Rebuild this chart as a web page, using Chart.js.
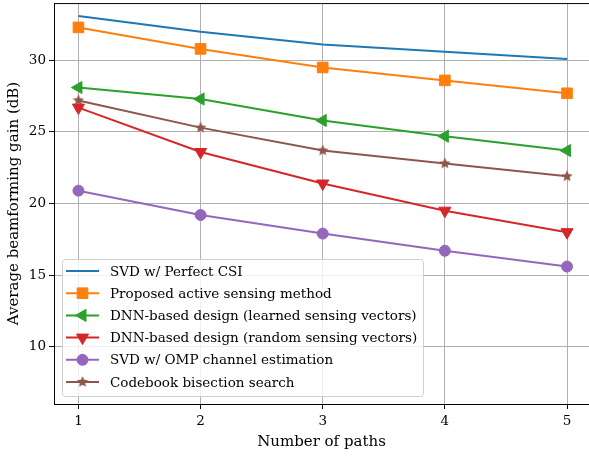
<!DOCTYPE html>
<html>
<head>
<meta charset="utf-8">
<script src="https://cdn.jsdelivr.net/npm/chart.js@4"></script>
<style>
  html, body { margin: 0; padding: 0; background: #fff; }
  #wrap { width: 589px; height: 456px; }
</style>
</head>
<body>
<div id="wrap"><canvas id="chart" width="589" height="456"></canvas></div>
<script>
// values
var paths = [1, 2, 3, 4, 5];
var yTicks = [10, 15, 20, 25, 30];
var svdPerfect = [33.1, 32.0, 31.1, 30.6, 30.1];
var proposed = [32.3, 30.8, 29.5, 28.6, 27.7];
var dnnLearned = [28.1, 27.3, 25.8, 24.7, 23.7];
var dnnRandom = [26.7, 23.6, 21.4, 19.5, 18.0];
var svdOmp = [20.9, 19.2, 17.9, 16.7, 15.6];
var codebook = [27.2, 25.3, 23.7, 22.8, 21.9];

var FONT = "'DejaVu Serif', serif";

function pts(vals) {
    return paths.map((p, i) => ({ x: p, y: vals[i] }));
}

// filled five point star for the codebook series
function starImage(color, size) {
    var c = document.createElement('canvas');
    c.width = size; c.height = size;
    var g = c.getContext('2d');
    var cx = size / 2, cy = size / 2, R = size / 2, r = R * 0.45;
    g.beginPath();
    for (var i = 0; i < 10; i++) {
        var a = -Math.PI / 2 + i * Math.PI / 5;
        var rad = i % 2 === 0 ? R : r;
        g.lineTo(cx + rad * Math.cos(a), cy + rad * Math.sin(a));
    }
    g.closePath();
    g.fillStyle = color;
    g.fill();
    return c;
}

var star = starImage('#8c564b', 12);

function series(label, vals, color, style, radius, rotation) {
    return {
        label: label,
        data: pts(vals),
        borderColor: color,
        backgroundColor: color,
        borderWidth: 2,
        pointStyle: style,
        pointRadius: radius,
        pointHoverRadius: radius,
        pointRotation: rotation || 0,
        pointBorderWidth: 1,
        pointBorderColor: color,
        pointBackgroundColor: color,
        tension: 0
    };
}

var datasets = [
    series('SVD w/ Perfect CSI', svdPerfect, '#1f77b4', false, 0),
    series('Proposed active sensing method', proposed, '#ff7f0e', 'rect', 7.5),
    series('DNN-based design (learned sensing vectors)', dnnLearned, '#2ca02c', 'triangle', 7, -90),
    series('DNN-based design (random sensing vectors)', dnnRandom, '#d62728', 'triangle', 7, 180),
    series('SVD w/ OMP channel estimation', svdOmp, '#9467bd', 'circle', 5.5),
    series('Codebook bisection search', codebook, '#8c564b', star, 6)
];

// legend box in the lower left of the plot, matplotlib style
var insideLegend = {
    id: 'insideLegend',
    afterDatasetsDraw: function(chart) {
        var ctx = chart.ctx;
        var x0 = 62, y0 = 259, w = 361, h = 137, rowH = 22.2, firstY = 271;
        ctx.save();
        ctx.beginPath();
        ctx.roundRect(x0 + 0.5, y0 + 0.5, w, h, 3);
        ctx.fillStyle = 'rgba(255,255,255,0.8)';
        ctx.fill();
        ctx.strokeStyle = '#d0d0d0';
        ctx.lineWidth = 1;
        ctx.stroke();
        ctx.font = '13.5px ' + FONT;
        ctx.textBaseline = 'middle';
        chart.data.datasets.forEach((ds, i) => {
            var y = firstY + i * rowH;
            ctx.beginPath();
            ctx.moveTo(66, y);
            ctx.lineTo(99, y);
            ctx.strokeStyle = ds.borderColor;
            ctx.lineWidth = 2;
            ctx.stroke();
            if (ds.pointStyle) {
                ctx.fillStyle = ds.backgroundColor;
                ctx.strokeStyle = ds.borderColor;
                ctx.lineWidth = 1;
                Chart.helpers.drawPoint(ctx, {
                    pointStyle: ds.pointStyle,
                    rotation: ds.pointRotation,
                    borderWidth: 1,
                    radius: ds.pointRadius
                }, 82.5, y);
            }
            ctx.fillStyle = '#000';
            ctx.fillText(ds.label, 110, y + 1);
        });
        ctx.restore();
    }
};

// black top spine (right spine falls off the canvas)
var frame = {
    id: 'frame',
    afterDraw: function(chart) {
        var a = chart.chartArea, ctx = chart.ctx;
        ctx.save();
        ctx.strokeStyle = '#000';
        ctx.lineWidth = 1;
        ctx.beginPath();
        ctx.moveTo(a.left, a.top + 0.5);
        ctx.lineTo(a.right, a.top + 0.5);
        ctx.stroke();
        ctx.restore();
    }
};

var ctx = document.getElementById('chart').getContext('2d');
new Chart(ctx, {
    type: 'line',
    data: { datasets: datasets },
    plugins: [insideLegend, frame],
    options: {
        responsive: false,
        animation: false,
        layout: { autoPadding: false, padding: { top: 3, right: 0, left: 0, bottom: 0 } },
        plugins: {
            legend: { display: false },
            tooltip: { enabled: false }
        },
        scales: {
            x: {
                type: 'linear',
                min: 0.8,
                max: 5.18,
                afterBuildTicks: s => { s.ticks = paths.map(v => ({ value: v })); },
                afterFit: s => { s.height = 52; },
                grid: { color: '#b0b0b0', lineWidth: 1, tickColor: '#000', tickLength: 5 },
                border: { color: '#000', width: 1 },
                ticks: { color: '#000', font: { family: FONT, size: 13.5 }, padding: 4, maxRotation: 0 },
                title: { display: true, text: 'Number of paths', color: '#000', font: { family: FONT, size: 15 }, padding: { top: 2, bottom: 5 } }
            },
            y: {
                min: 6,
                max: 34,
                afterBuildTicks: s => { s.ticks = yTicks.map(v => ({ value: v })); },
                afterFit: s => { s.width = 54; },
                grid: { color: '#b0b0b0', lineWidth: 1, tickColor: '#000', tickLength: 5 },
                border: { color: '#000', width: 1 },
                // tiny line height so the top label does not push the plot down
                ticks: { color: '#000', font: { family: FONT, size: 13.5, lineHeight: 0.01 }, padding: 3 },
                title: { display: true, text: 'Average beamforming gain (dB)', color: '#000', font: { family: FONT, size: 15 }, padding: { top: 5, bottom: 2 } }
            }
        }
    }
});
</script>
</body>
</html>
